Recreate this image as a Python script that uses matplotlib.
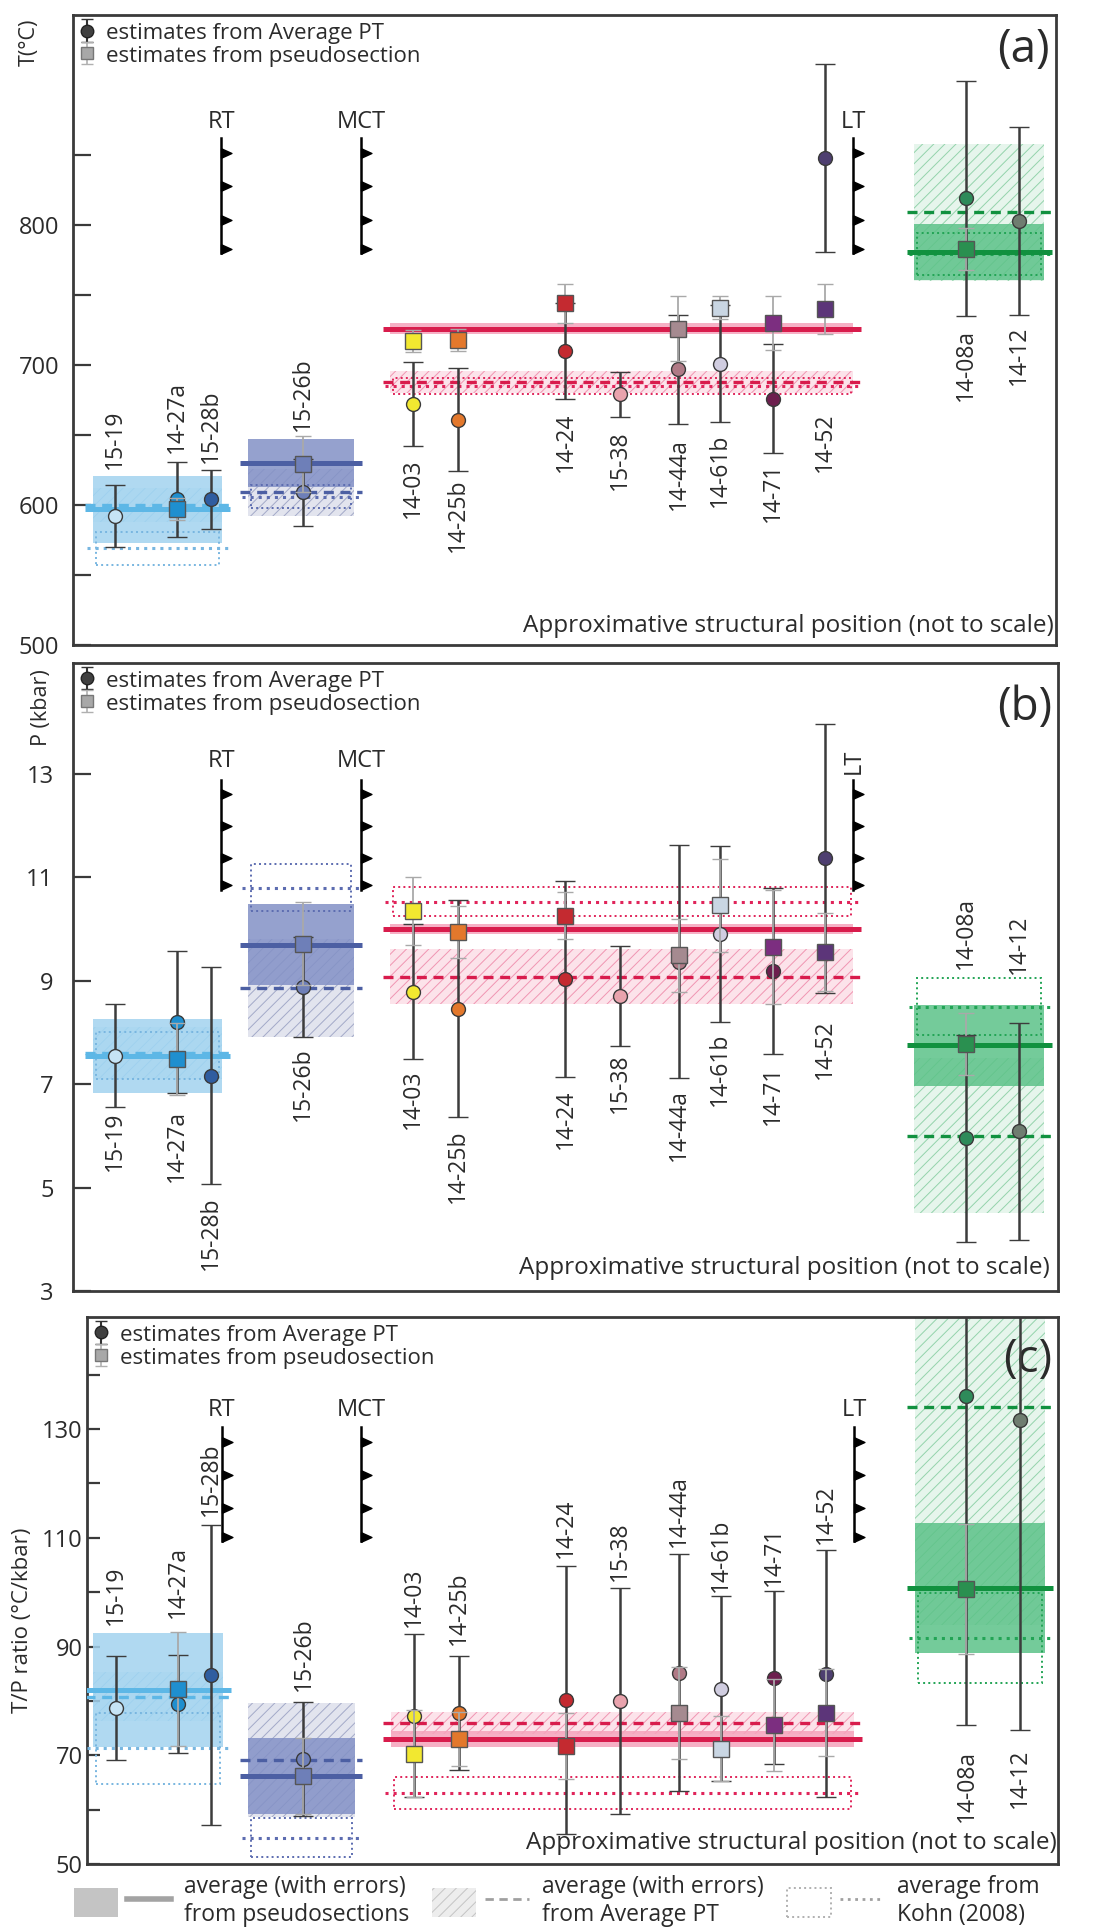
import numpy as np
import matplotlib
matplotlib.use('Agg')
import matplotlib.pyplot as plt
from matplotlib.patches import Rectangle, Patch
from matplotlib.lines import Line2D
from matplotlib.path import Path
from matplotlib.colors import to_rgba
from matplotlib.legend_handler import HandlerTuple

plt.rcParams['font.family'] = ['Open Sans', 'DejaVu Sans']
plt.rcParams['hatch.linewidth'] = 0.7
plt.rcParams['text.color'] = '#2b2b2b'
plt.rcParams['axes.edgecolor'] = '#3a3a3a'

#--Data--
samples = ['15-19', '14-27a', '15-28b', '15-26b', '14-03', '14-25b', '14-24',
           '15-38', '14-44a', '14-61b', '14-71', '14-52', '14-08a', '14-12']
# approximative structural position (0-100, not to scale)
struct_pos = [4.3, 10.6, 14.0, 23.4, 34.6, 39.2, 50.1, 55.6, 61.6, 65.8, 71.2, 76.5, 90.8, 96.2]
fault_names = ['RT', 'MCT', 'LT']
fault_pos = [15.1, 29.3, 79.4]

# (a) temperature (degC)
T_avpt = [592, 604, 604, 609, 672, 661, 710, 679, 697, 701, 676, 848, 819, 803]
T_avpt_err = [22, 27, 21, 24, 30, 37, 34, 16, 39, 42, 39, 67, 84, 67]
T_ps = [np.nan, 597, np.nan, 629, 717, 718, 744, np.nan, 726, 741, 730, 740, 783, np.nan]
T_ps_err = [np.nan, 8, np.nan, 20, 8, 8, 14, np.nan, 23, 8, 19, 18, 15, np.nan]

# (b) pressure (kbar)
P_avpt = [7.55, 8.2, 7.16, 8.88, 8.79, 8.46, 9.04, 8.71, 9.37, 9.91, 9.19, 11.37, 5.95, 6.09]
P_avpt_err = [1.0, 1.38, 2.1, 0.97, 1.3, 2.1, 1.9, 0.97, 2.25, 1.7, 1.6, 2.6, 2.0, 2.1]
P_ps = [np.nan, 7.49, np.nan, 9.72, 10.35, 9.95, 10.26, np.nan, 9.49, 10.46, 9.66, 9.56, 7.78, np.nan]
P_ps_err = [np.nan, 0.7, np.nan, 0.8, 0.65, 0.5, 0.45, np.nan, 0.7, 0.9, 1.1, 0.75, 0.6, np.nan]

# (c) T/P ratio (degC/kbar)
TP_avpt = [78.7, 79.5, 84.8, 69.3, 77.3, 77.8, 80.2, 80.0, 85.2, 82.2, 84.3, 85.0, 136.0, 131.6]
TP_avpt_err = [9.5, 9.0, 27.6, 10.5, 15.0, 10.5, 24.7, 20.8, 21.8, 17.0, 16.0, 22.7, 60.4, 57.0]
TP_ps = [np.nan, 82.2, np.nan, 66.2, 70.3, 73.0, 71.7, np.nan, 77.8, 71.2, 75.6, 77.8, 100.6, np.nan]
TP_ps_err = [np.nan, 10.5, np.nan, 7.0, 8.0, 5.0, 6.0, np.nan, 8.5, 6.0, 8.5, 8.0, 12.0, np.nan]

# group averages, order: blue, navy, red, green
T_grp_ps = [597, 630, 726, 781]
T_grp_ps_err = [24, 17, 4, 20]
T_grp_avpt = [600, 609, 688, 809]
T_grp_avpt_err = [12, 17, 8, 49]
T_grp_kohn = [569, 606, 685, 779]
T_grp_kohn_err = [12, 8, 6, 15]

P_grp_ps = [7.55, 9.7, 10.0, 7.75]
P_grp_ps_err = [0.72, 0.78, 0.1, 0.78]
P_grp_avpt = [7.6, 8.86, 9.08, 6.0]
P_grp_avpt_err = [0.5, 0.95, 0.53, 1.5]
P_grp_kohn = [7.55, 10.8, 10.53, 8.5]
P_grp_kohn_err = [0.45, 0.45, 0.28, 0.55]

TP_grp_ps = [82.0, 66.2, 73.0, 100.8]
TP_grp_ps_err = [10.5, 7.0, 1.5, 12.0]
TP_grp_avpt = [80.8, 69.2, 76.0, 134.0]
TP_grp_avpt_err = [4.5, 10.5, 2.0, 40.0]
TP_grp_kohn = [71.3, 54.8, 63.1, 91.6]
TP_grp_kohn_err = [6.5, 3.6, 2.9, 8.3]

#--Styles / layout--
circ_col = ['#c6e4f5', '#1f8fcf', '#2f5da0', '#6e7fb8', '#f2e830', '#e3782c', '#c42a30',
            '#e9a3ad', '#b07a86', '#d0cde0', '#6d1f4e', '#4e3f70', '#2e8b5a', '#6f7d70']
sq_col = ['#c6e4f5', '#1f8fcf', '#2f5da0', '#6e7fb8', '#f2e830', '#e3782c', '#c42a30',
          '#e9a3ad', '#a58a90', '#c9d6e3', '#7c2e80', '#5c3579', '#2a9050', '#6f7d70']
grp_span = [(2.0, 15.2), (17.8, 28.6), (32.3, 79.4), (85.6, 98.8)]
grp_style = [
    dict(band='#a3d3ef', line='#5db7e6', hatch='#8cc8ea', hface='#dcf0fa', kohn='#78b6e0'),
    dict(band='#8391c6', line='#4c5fa3', hatch='#a3a9c8', hface='#e2e4ee', kohn='#5c6cb0'),
    dict(band='#f5a3bb', line='#d81c4c', hatch='#f095b2', hface='#fce3ea', kohn='#e0245a'),
    dict(band='#5cc288', line='#11913f', hatch='#93d3ab', hface='#e6f5ec', kohn='#22a455'),
]

tooth = Path([(0, -0.5), (1.1, 0), (0, 0.5), (0, -0.5)],
             [Path.MOVETO, Path.LINETO, Path.LINETO, Path.CLOSEPOLY])
teeth_frac = np.array([0.13, 0.42, 0.71, 0.96])


def draw_groups(ax, g_ps, g_ps_err, g_av, g_av_err, g_ko, g_ko_err):
    for i, (x0, x1) in enumerate(grp_span):
        st = grp_style[i]
        w = x1 - x0
        ax.add_patch(Rectangle((x0, g_av[i] - g_av_err[i]), w, 2 * g_av_err[i],
                               facecolor=st['hface'], edgecolor=st['hatch'], lw=0,
                               hatch='///', zorder=1))
        ax.add_patch(Rectangle((x0, g_ps[i] - g_ps_err[i]), w, 2 * g_ps_err[i],
                               facecolor=to_rgba(st['band'], 0.85), lw=0, zorder=2))
        ax.add_patch(Rectangle((x0 + 0.3, g_ko[i] - g_ko_err[i]), w - 0.6, 2 * g_ko_err[i],
                               fill=False, edgecolor=st['kohn'], lw=1.4, ls=':', zorder=3))
        ax.hlines(g_ko[i], x0 - 0.6, x1 + 0.6, colors=st['kohn'], lw=2.2, ls=':', zorder=3)
        ax.hlines(g_av[i], x0 - 0.8, x1 + 0.8, colors=st['line'], lw=2.4, ls=(0, (3, 2)), zorder=4)
        ax.hlines(g_ps[i], x0 - 0.8, x1 + 0.8, colors=st['line'], lw=3.6, zorder=4)


def draw_samples(ax, avpt, avpt_err, ps, ps_err, lab_y, lab_side):
    for i in range(len(samples)):
        x = struct_pos[i]
        ax.errorbar(x, avpt[i], yerr=avpt_err[i], fmt='o', ms=10, mfc=circ_col[i], mec='#3a3a3a',
                    mew=1.0, ecolor='#3c3c3c', elinewidth=1.8, capsize=7, capthick=1.8, zorder=6)
        if not np.isnan(ps[i]):
            ax.errorbar(x, ps[i], yerr=ps_err[i], fmt='s', ms=11, mfc=sq_col[i], mec='#555555',
                        mew=1.0, ecolor='#a9a9a9', elinewidth=1.3, capsize=6, capthick=1.3, zorder=7)
        va = 'bottom' if lab_side[i] == 'a' else 'top'
        ax.text(x, lab_y[i], samples[i], rotation=90, ha='center', va=va, fontsize=16.5, zorder=8)


def draw_faults(ax, top, bot, lab_y, lt_rot=0):
    tr = ax.get_xaxis_transform()
    for name, xf in zip(fault_names, fault_pos):
        ax.plot([xf, xf], [bot, top], color='k', lw=1.8, transform=tr, zorder=5)
        ty = top - teeth_frac * (top - bot)
        ax.plot([xf] * 4, ty, ls='none', marker=tooth, ms=15, color='k', transform=tr, zorder=5)
        rot = lt_rot if name == 'LT' else 0
        ax.text(xf, lab_y, name, ha='center', va='center', rotation=rot, transform=tr, fontsize=17)


def panel_legend(ax, fy):
    h1 = ax.errorbar([np.nan], [np.nan], yerr=[1], fmt='o', ms=9, mfc='#404040', mec='#222222',
                     ecolor='#333333', elinewidth=1.5, capsize=4)
    h2 = ax.errorbar([np.nan], [np.nan], yerr=[1], fmt='s', ms=8, mfc='#a8a8a8', mec='#777777',
                     ecolor='#b0b0b0', elinewidth=1.2, capsize=4)
    ax.legend([h1, h2], ['estimates from Average PT', 'estimates from pseudosection'],
              loc='upper left', bbox_to_anchor=(0.0, fy), frameon=False, fontsize=16,
              handlelength=0.7, handleheight=1.0, handletextpad=0.5, borderaxespad=0.1,
              borderpad=0.2, labelspacing=0.0)


def style_axis(ax, ylim, ticks, minor, tick_len, pad):
    ax.set_ylim(*ylim)
    ax.set_yticks(ticks)
    ax.set_yticks(minor, minor=True)
    ax.set_xticks([])
    ax.tick_params(axis='y', which='both', direction='in', length=tick_len, width=1.6,
                   labelsize=17, pad=pad, colors='#3a3a3a', labelcolor='#2b2b2b')
    for s in ax.spines.values():
        s.set_linewidth(2)


fig = plt.figure(figsize=(11.14, 19.32), dpi=100)
ax_a = fig.add_axes([0.0655, 0.6661, 0.8824, 0.3261])
ax_b = fig.add_axes([0.0655, 0.3318, 0.8842, 0.3251])
ax_c = fig.add_axes([0.0781, 0.0352, 0.8716, 0.2831])

struct_text = 'Approximative structural position (not to scale)'

# (a)
ax_a.set_xlim(0, 100)
draw_groups(ax_a, T_grp_ps, T_grp_ps_err, T_grp_avpt, T_grp_avpt_err, T_grp_kohn, T_grp_kohn_err)
draw_samples(ax_a, T_avpt, T_avpt_err, T_ps, T_ps_err,
             [626, 637, 630, 653, 633, 619, 666, 653, 648, 651, 630, 666, 726, 728],
             ['a'] * 4 + ['b'] * 10)
draw_faults(ax_a, 0.805, 0.622, 0.830)
style_axis(ax_a, (500, 950), [500, 600, 700, 800], [550, 650, 750, 850], 13, 10)
panel_legend(ax_a, 1.0)
ax_a.text(-0.044, 0.995, 'T(°C)', transform=ax_a.transAxes, rotation=90, ha='center', va='top', fontsize=15.5)
ax_a.text(0.994, 0.944, '(a)', transform=ax_a.transAxes, ha='right', va='center', fontsize=33)
ax_a.text(0.998, 0.03, struct_text, transform=ax_a.transAxes, ha='right', va='center', fontsize=17.5)

# (b)
ax_b.set_xlim(0, 100.2)
draw_groups(ax_b, P_grp_ps, P_grp_ps_err, P_grp_avpt, P_grp_avpt_err, P_grp_kohn, P_grp_kohn_err)
draw_samples(ax_b, P_avpt, P_avpt_err, P_ps, P_ps_err,
             [6.46, 6.5, 4.83, 7.72, 7.29, 6.13, 6.9, 7.6, 6.9, 8.0, 7.35, 8.26, 9.23, 9.13],
             ['b'] * 12 + ['a'] * 2)
draw_faults(ax_b, 0.814, 0.639, 0.843, lt_rot=90)
style_axis(ax_b, (3, 15.15), [3, 5, 7, 9, 11, 13], [], 13, 14)
panel_legend(ax_b, 1.0)
ax_b.text(-0.032, 0.99, 'P (kbar)', transform=ax_b.transAxes, rotation=90, ha='center', va='top', fontsize=15.5)
ax_b.text(0.994, 0.928, '(b)', transform=ax_b.transAxes, ha='right', va='center', fontsize=33)
ax_b.text(0.992, 0.037, struct_text, transform=ax_b.transAxes, ha='right', va='center', fontsize=17.5)

# (c)
ax_c.set_xlim(1.4, 100.1)
draw_groups(ax_c, TP_grp_ps, TP_grp_ps_err, TP_grp_avpt, TP_grp_avpt_err, TP_grp_kohn, TP_grp_kohn_err)
draw_samples(ax_c, TP_avpt, TP_avpt_err, TP_ps, TP_ps_err,
             [94.0, 95.3, 114.0, 81.8, 93.5, 90.3, 106.3, 102.1, 108.3, 100.0, 101.2, 108.8, 71.0, 71.2],
             ['a'] * 12 + ['b'] * 2)
draw_faults(ax_c, 0.799, 0.590, 0.830)
style_axis(ax_c, (50, 150.6), [50, 70, 90, 110, 130], [60, 80, 100, 120, 140], 9, 3)
panel_legend(ax_c, 1.0)
ax_c.text(-0.066, 0.446, 'T/P ratio (°C/kbar)', transform=ax_c.transAxes, rotation=90,
          ha='center', va='center', fontsize=16)
ax_c.text(0.994, 0.921, '(c)', transform=ax_c.transAxes, ha='right', va='center', fontsize=33)
ax_c.text(0.999, 0.038, struct_text, transform=ax_c.transAxes, ha='right', va='center', fontsize=17.5)

# bottom legend
leg_handles = [
    (Patch(facecolor='#c4c4c4', edgecolor='none'), Line2D([], [], color='#a3a3a3', lw=4)),
    (Patch(facecolor='#ededed', edgecolor='#c4c4c4', hatch='///', lw=0),
     Line2D([], [], color='#a0a0a0', lw=2, ls=(0, (3, 2)))),
    (Patch(facecolor='none', edgecolor='#b0b0b0', ls=':', lw=1.4),
     Line2D([], [], color='#a0a0a0', lw=2, ls=':')),
]
leg_labels = ['average (with errors)\nfrom pseudosections', 'average (with errors)\nfrom Average PT',
              'average from\nKohn (2008)']
fig.legend(leg_handles, leg_labels, handler_map={tuple: HandlerTuple(ndivide=None)},
           loc='center', bbox_to_anchor=(0.5, 0.016), ncol=3, frameon=False, fontsize=16.5,
           handlelength=4.2, handleheight=1.6, handletextpad=0.6, columnspacing=1.0, labelspacing=0.1)

fig.savefig('out.png', dpi=100)
